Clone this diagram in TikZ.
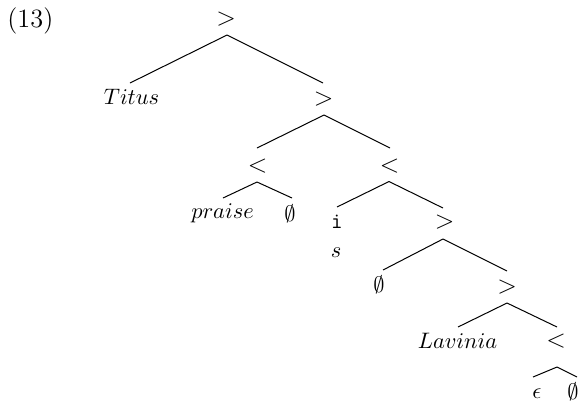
\documentclass[tikz,border=0pt]{standalone}
\usepackage{fix-cm}
\usetikzlibrary{calc}
\tikzset{
  op/.style={font=\fontsize{12.8}{15}\selectfont, inner sep=0pt, anchor=base},
  lf/.style={font=\fontsize{11.2}{13}\selectfont, inner sep=0pt, anchor=base},
  lbl/.style={font=\fontsize{13.2}{15}\selectfont, inner sep=0pt, anchor=base west},
  br/.style={line width=0.5pt}
}
\begin{document}
\begin{tikzpicture}[x=0.5pt,y=-0.5pt]
\useasboundingbox (0,0) rectangle (582,404);
\node[lbl] (lab) at (7,27) {(13)};
\node[op] (n0) at (226,25) {$>$};
\node[lf] (titus) at (131.5,104) {$Titus$};
\node[op] (n1) at (323.5,105) {$>$};
\node[op] (n2) at (257.5,172) {$<$};
\node[op] (n3) at (389.5,172) {$<$};
\node[lf] (praise) at (222.5,218) {$praise$};
\node[lf] (e1) at (290,221) {$\emptyset$};
\node[lf] (i) at (337,228) {\texttt{i}};
\node[lf] (s) at (336,257) {$s$};
\node[op] (n4) at (444.5,228.5) {$>$};
\node[lf] (e2) at (379,292) {$\emptyset$};
\node[op] (n5) at (507,293.5) {$>$};
\node[lf] (lav) at (457.5,348) {$Lavinia$};
\node[op] (n6) at (556,347.5) {$<$};
\node[lf] (eps) at (537,398) {$\epsilon$};
\node[lf] (e3) at (573,399) {$\emptyset$};

\draw[br] ($(n0.base)+(1,10)$) -- ($(titus.base)+(-1.5,-21)$);
\draw[br] ($(n0.base)+(1,10)$) -- ($(n1.base)+(-0.5,-22)$);
\draw[br] ($(n1.base)+(0.5,10)$) -- ($(n2.base)+(-0.5,-24)$);
\draw[br] ($(n1.base)+(0.5,10)$) -- ($(n3.base)+(0.5,-24)$);
\draw[br] ($(n2.base)+(-0.5,10)$) -- ($(praise.base)+(0.5,-20)$);
\draw[br] ($(n2.base)+(-0.5,10)$) -- ($(e1.base)+(2,-23)$);
\draw[br] ($(n3.base)+(-0.5,9.5)$) -- ($(i.base)+(0,-21)$);
\draw[br] ($(n3.base)+(-0.5,9.5)$) -- ($(n4.base)+(-1.5,-20.5)$);
\draw[br] ($(n4.base)+(-1.5,10.5)$) -- ($(e2.base)+(4,-22)$);
\draw[br] ($(n4.base)+(-1.5,10.5)$) -- ($(n5.base)+(0,-22.5)$);
\draw[br] ($(n5.base)+(0,9.5)$) -- ($(lav.base)+(0.5,-21)$);
\draw[br] ($(n5.base)+(0,9.5)$) -- ($(n6.base)+(1,-20.5)$);
\draw[br] ($(n6.base)+(1,19.5)$) -- ($(eps.base)+(-4,-21)$);
\draw[br] ($(n6.base)+(1,19.5)$) -- ($(e3.base)+(4,-22)$);
\end{tikzpicture}
\end{document}
